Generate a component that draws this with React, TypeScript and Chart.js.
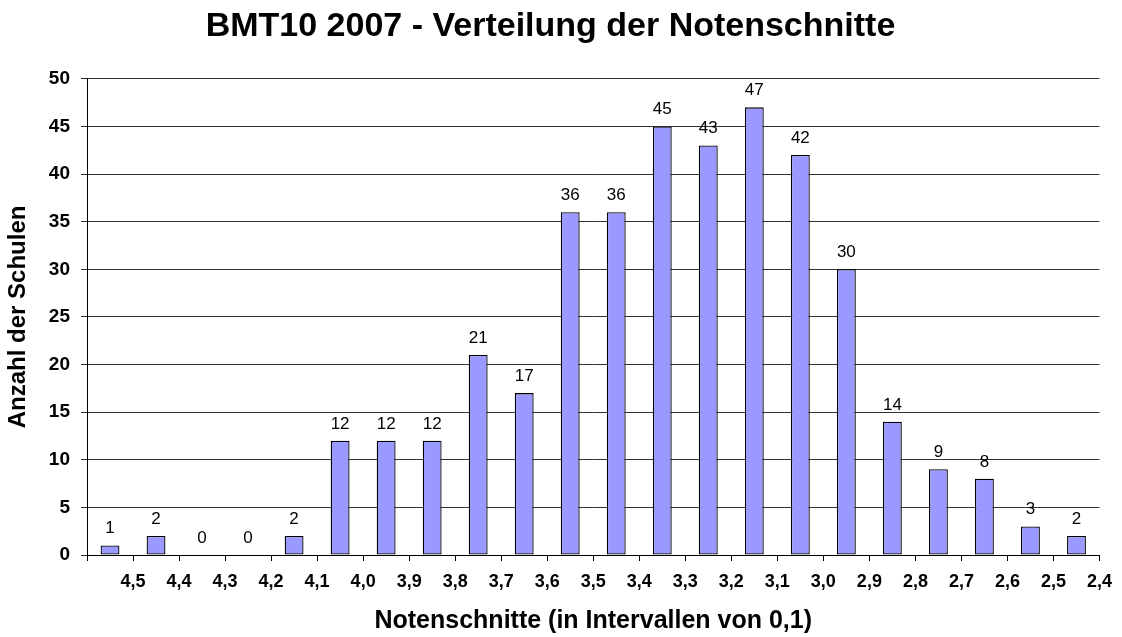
import React, { useEffect, useRef } from 'react';
import { Chart, registerables } from 'chart.js';

Chart.register(...registerables);

const chartTitle = 'BMT10 2007 - Verteilung der Notenschnitte';
const xAxisTitle = 'Notenschnitte (in Intervallen von 0,1)';
const yAxisTitle = 'Anzahl der Schulen';

// Tick labels sit on the boundaries between the intervals (right edge of each bar slot)
const boundaryLabels = [
  '4,5', '4,4', '4,3', '4,2', '4,1', '4,0', '3,9', '3,8', '3,7', '3,6', '3,5',
  '3,4', '3,3', '3,2', '3,1', '3,0', '2,9', '2,8', '2,7', '2,6', '2,5', '2,4',
];

// Number of schools per interval (one bar per interval)
const schoolCounts = [1, 2, 0, 0, 2, 12, 12, 12, 21, 17, 36, 36, 45, 43, 47, 42, 30, 14, 9, 8, 3, 2];

const yMin = 0;
const yMax = 50;
const yStep = 5;

const FONT = '"Liberation Sans", Arial, Helvetica, sans-serif';

const valueLabelPlugin = {
  id: 'valueLabels',
  afterDatasetsDraw(chart: any) {
    const ctx = chart.ctx;
    const meta = chart.getDatasetMeta(0);
    ctx.save();
    ctx.font = `17px ${FONT}`;
    ctx.fillStyle = '#000';
    ctx.textAlign = 'center';
    ctx.textBaseline = 'alphabetic';
    meta.data.forEach((bar: any, i: number) => {
      ctx.fillText(String(schoolCounts[i]), bar.x, bar.y - 12);
    });
    ctx.restore();
  },
};

export default function App() {
  const canvasRef = useRef<HTMLCanvasElement | null>(null);

  useEffect(() => {
    document.body.style.margin = '0';
    document.body.style.overflow = 'hidden';
    const canvas = canvasRef.current;
    if (!canvas) return;

    const chart = new Chart(canvas, {
      type: 'bar',
      data: {
        datasets: [
          {
            data: schoolCounts.map((v, i) => ({ x: i + 0.5, y: v })),
            backgroundColor: '#9999FF',
            borderColor: '#000000',
            borderWidth: 1.3,
            borderSkipped: false,
            barPercentage: 0.41,
            categoryPercentage: 1,
          },
        ],
      },
      options: {
        responsive: false,
        animation: false,
        devicePixelRatio: 1,
        layout: { padding: { left: 0, right: 21, top: 0, bottom: 0 } },
        plugins: {
          legend: { display: false },
          tooltip: { enabled: false },
          title: {
            display: true,
            text: chartTitle,
            color: '#000',
            font: { family: FONT, size: 34, weight: 'bold' },
            padding: { top: 6, bottom: 32 },
          },
        },
        scales: {
          x: {
            type: 'linear',
            offset: false,
            min: 0,
            max: boundaryLabels.length,
            afterFit: (scale: any) => {
              scale.height = 82;
            },
            afterBuildTicks: (scale: any) => {
              const ticks = [];
              for (let k = 0; k <= boundaryLabels.length; k++) ticks.push({ value: k });
              scale.ticks = ticks;
            },
            ticks: {
              autoSkip: false,
              maxRotation: 0,
              minRotation: 0,
              color: '#000',
              padding: 10,
              font: { family: FONT, size: 18, weight: 'bold' },
              callback: (value: any) => {
                const k = Math.round(Number(value));
                return k >= 1 ? boundaryLabels[k - 1] : '';
              },
            },
            grid: {
              offset: false,
              drawOnChartArea: false,
              drawTicks: true,
              tickLength: 6,
              color: '#000',
              lineWidth: 1,
            },
            border: { display: true, color: '#000', width: 1 },
            title: {
              display: true,
              text: xAxisTitle,
              color: '#000',
              font: { family: FONT, size: 25, weight: 'bold' },
              padding: { top: 0, bottom: 1 },
            },
          },
          y: {
            type: 'linear',
            min: yMin,
            max: yMax,
            afterFit: (scale: any) => {
              scale.width = 87;
            },
            ticks: {
              stepSize: yStep,
              color: '#000',
              padding: 11,
              font: { family: FONT, size: 19, weight: 'bold' },
            },
            grid: {
              drawOnChartArea: true,
              drawTicks: true,
              tickLength: 6,
              color: '#333',
              lineWidth: 1,
            },
            border: { display: true, color: '#000', width: 1 },
            title: {
              display: true,
              text: yAxisTitle,
              color: '#000',
              font: { family: FONT, size: 24, weight: 'bold' },
              padding: { top: 4, bottom: 0 },
            },
          },
        },
      },
      plugins: [valueLabelPlugin],
    } as any);

    return () => chart.destroy();
  }, []);

  return (
    <div style={{ width: 1122, height: 637, background: '#fff' }}>
      <canvas ref={canvasRef} width={1122} height={637} style={{ display: 'block' }} />
    </div>
  );
}
